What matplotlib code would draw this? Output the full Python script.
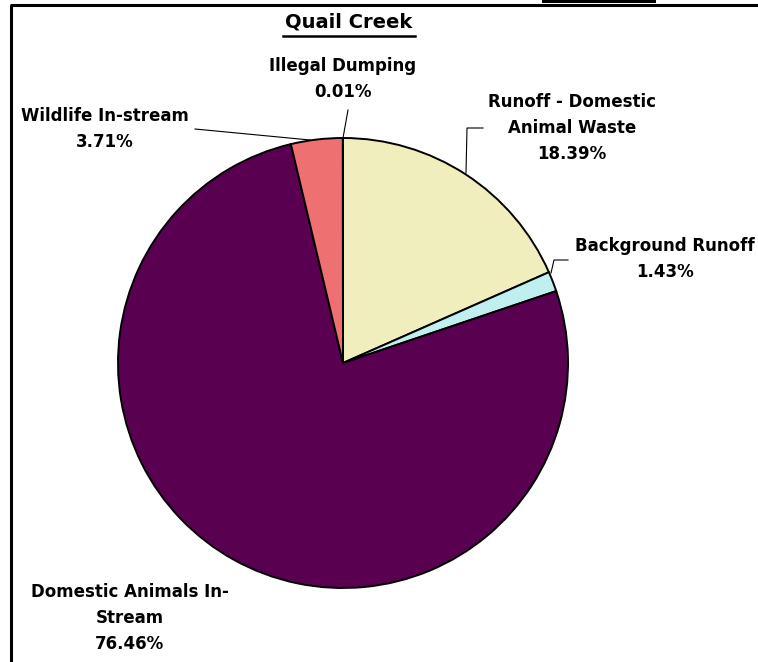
import matplotlib.pyplot as plt
from matplotlib.patches import Rectangle

plt.rcParams['font.family'] = ['DejaVu Sans']

# Pie data
sources = ['Runoff - Domestic\nAnimal Waste', 'Background Runoff',
           'Domestic Animals In-\nStream', 'Wildlife In-stream',
           'Illegal Dumping']
shares = [18.39, 1.43, 76.46, 3.71, 0.01]
colors = ['#f0eebc', '#bff0ef', '#5a0050', '#ef7070', '#ffffff']

W, H = 758, 662
fig = plt.figure(figsize=(W / 100, H / 100), dpi=100)
ax = fig.add_axes([0, 0, 1, 1])


def py(y):
    # pixel row (from top) -> data y
    return H - y


ax.pie(shares, colors=colors, startangle=90, counterclock=False,
       center=(343, py(363)), radius=225, frame=True,
       wedgeprops=dict(edgecolor='black', linewidth=1.4))
ax.set_xlim(0, W)
ax.set_ylim(0, H)
ax.set_aspect('equal')
ax.axis('off')

# Labels: (index, center x, center y of the text block)
label_pos = [(0, 572, 128), (1, 665, 259), (2, 130, 618), (3, 105, 129),
             (4, 343, 79)]
for i, x, y in label_pos:
    txt = sources[i] + '\n' + f'{shares[i]:.2f}%'
    ax.text(x, py(y), txt, ha='center', va='center', fontsize=12,
            fontweight='bold', linespacing=1.6, clip_on=False)

# Leader lines
leaders = [([466, 467, 483], [173, 128, 128]),
           ([551, 554, 568], [273, 260, 260]),
           ([310, 195], [140, 129]),
           ([343, 348], [138, 110])]
for xs, ys in leaders:
    ax.plot(xs, [py(v) for v in ys], color='black', lw=0.8)

# Title
ax.text(349, py(22), 'Quail Creek', ha='center', va='center', fontsize=14,
        fontweight='bold')
ax.plot([283, 415], [py(36), py(36)], color='black', lw=1.8)

# Frame pieces
ax.plot([10, W], [py(5), py(5)], color='black', lw=2.2, solid_capstyle='butt')
ax.plot([11, 11], [py(5), py(H)], color='black', lw=2.2, solid_capstyle='butt')
ax.add_patch(Rectangle((542, py(3)), 114, 3, color='black', lw=0))

fig.savefig('out.png', dpi=100)
